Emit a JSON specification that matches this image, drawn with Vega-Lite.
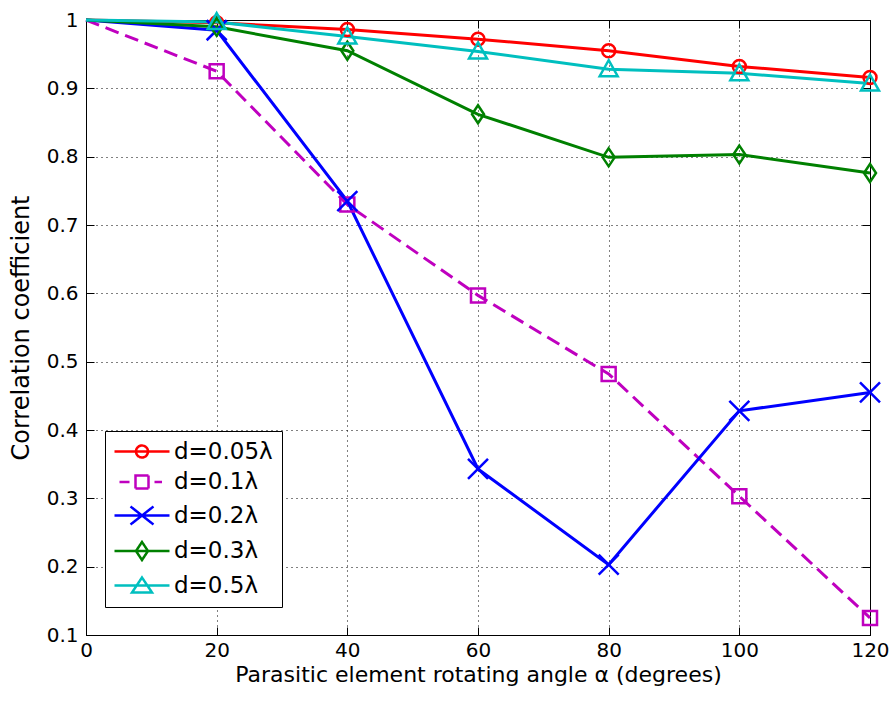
{
  "$schema": "https://vega.github.io/schema/vega-lite/v6.json",
  "width": 784,
  "height": 615,
  "autosize": {"type": "none"},
  "padding": {"left": 86, "top": 20, "right": 25, "bottom": 69},
  "background": "white",
  "data": {
    "values": [
      {"series": "d=0.05λ", "angle": 0, "value": 1.0},
      {"series": "d=0.05λ", "angle": 20, "value": 0.996},
      {"series": "d=0.05λ", "angle": 40, "value": 0.986},
      {"series": "d=0.05λ", "angle": 60, "value": 0.972},
      {"series": "d=0.05λ", "angle": 80, "value": 0.955},
      {"series": "d=0.05λ", "angle": 100, "value": 0.932},
      {"series": "d=0.05λ", "angle": 120, "value": 0.916},
      {"series": "d=0.1λ", "angle": 0, "value": 1.0},
      {"series": "d=0.1λ", "angle": 20, "value": 0.925},
      {"series": "d=0.1λ", "angle": 40, "value": 0.73},
      {"series": "d=0.1λ", "angle": 60, "value": 0.597},
      {"series": "d=0.1λ", "angle": 80, "value": 0.482},
      {"series": "d=0.1λ", "angle": 100, "value": 0.303},
      {"series": "d=0.1λ", "angle": 120, "value": 0.125},
      {"series": "d=0.2λ", "angle": 0, "value": 1.0},
      {"series": "d=0.2λ", "angle": 20, "value": 0.985},
      {"series": "d=0.2λ", "angle": 40, "value": 0.735},
      {"series": "d=0.2λ", "angle": 60, "value": 0.343},
      {"series": "d=0.2λ", "angle": 80, "value": 0.203},
      {"series": "d=0.2λ", "angle": 100, "value": 0.428},
      {"series": "d=0.2λ", "angle": 120, "value": 0.455},
      {"series": "d=0.3λ", "angle": 0, "value": 1.0},
      {"series": "d=0.3λ", "angle": 20, "value": 0.99},
      {"series": "d=0.3λ", "angle": 40, "value": 0.955},
      {"series": "d=0.3λ", "angle": 60, "value": 0.862},
      {"series": "d=0.3λ", "angle": 80, "value": 0.799},
      {"series": "d=0.3λ", "angle": 100, "value": 0.803},
      {"series": "d=0.3λ", "angle": 120, "value": 0.776},
      {"series": "d=0.5λ", "angle": 0, "value": 1.0},
      {"series": "d=0.5λ", "angle": 20, "value": 0.997},
      {"series": "d=0.5λ", "angle": 40, "value": 0.976},
      {"series": "d=0.5λ", "angle": 60, "value": 0.954},
      {"series": "d=0.5λ", "angle": 80, "value": 0.928},
      {"series": "d=0.5λ", "angle": 100, "value": 0.922},
      {"series": "d=0.5λ", "angle": 120, "value": 0.907}
    ]
  },
  "encoding": {
    "x": {"field": "angle", "type": "quantitative", "scale": {"domain": [0, 120], "nice": false}, "axis": null},
    "y": {"field": "value", "type": "quantitative", "scale": {"domain": [0.1, 1], "nice": false, "zero": false}, "axis": null},
    "color": {
      "field": "series", "type": "nominal",
      "scale": {
        "domain": ["d=0.05λ", "d=0.1λ", "d=0.2λ", "d=0.3λ", "d=0.5λ"],
        "range": ["#ff0000", "#bf00bf", "#0000ff", "#008000", "#00bfbf"]
      },
      "legend": null
    }
  },
  "layer": [
    {
      "transform": [{"filter": "datum.series == 'd=0.05λ'"}],
      "mark": {"type": "line", "strokeWidth": 3, "clip": false},
      "encoding": {
        "x": {
          "field": "angle", "type": "quantitative",
          "axis": {
            "title": "Parasitic element rotating angle α (degrees)",
            "values": [0, 20, 40, 60, 80, 100, 120],
            "grid": true, "tickSize": -8, "labelPadding": 13, "titlePadding": 4, "titleFontSize": 22
          }
        },
        "y": {
          "field": "value", "type": "quantitative",
          "axis": {
            "title": "Correlation coefficient",
            "values": [0.1, 0.2, 0.3, 0.4, 0.5, 0.6, 0.7, 0.8, 0.9, 1.0],
            "format": ".1~f",
            "grid": true, "tickSize": -8, "labelPadding": 16, "titlePadding": 13, "titleFontSize": 24
          }
        },
        "color": {
          "field": "series", "type": "nominal",
          "legend": {
            "orient": "none", "legendX": 19, "legendY": 411, "title": null,
            "strokeColor": "black", "fillColor": "white",
            "padding": 9, "rowPadding": 6.5,
            "symbolSize": 400, "symbolStrokeWidth": 2.5,
            "symbolOffset": 16.5, "labelOffset": 20.5,
            "labelFontSize": 23, "labelFont": "DejaVu Sans", "labelColor": "black",
            "symbolFillColor": "transparent",
            "encode": {
              "symbols": {
                "update": {
                  "shape": {"signal": "['M-2.75,0L2.75,0M-0.6,0A0.6,0.6,0,1,0,0.6,0A0.6,0.6,0,1,0,-0.6,0Z', 'M-2.25,0L-1.25,0M1.25,0L2.0,0M-0.65,-0.65L0.65,-0.65L0.65,0.65L-0.65,0.65Z', 'M-2.75,0L2.75,0M-1.15,-0.9L1.15,0.9M-1.15,0.9L1.15,-0.9', 'M-2.75,0L2.75,0M0,-0.9L0.6,0L0,0.9L-0.6,0Z', 'M-2.75,0L2.75,0M0,-0.8L1.0,0.7L-1.0,0.7Z'][datum.index]"},
                  "strokeDash": {"value": [1, 0]},
                  "fill": {"value": "transparent"}
                }
              }
            }
          }
        }
      }
    },
    {
      "transform": [{"filter": "datum.series == 'd=0.1λ'"}],
      "mark": {"type": "line", "strokeWidth": 3, "strokeDash": [14, 7], "clip": false}
    },
    {
      "transform": [{"filter": "datum.series != 'd=0.05λ' && datum.series != 'd=0.1λ'"}],
      "mark": {"type": "line", "strokeWidth": 3, "clip": false}
    },
    {
      "transform": [{"filter": "datum.series == 'd=0.05λ' && datum.angle > 0"}],
      "mark": {"type": "point", "filled": false, "strokeWidth": 2.5, "size": 400, "opacity": 1, "clip": false,
               "shape": "M-0.65,0A0.65,0.65,0,1,0,0.65,0A0.65,0.65,0,1,0,-0.65,0Z"}
    },
    {
      "transform": [{"filter": "datum.series == 'd=0.1λ' && datum.angle > 0"}],
      "mark": {"type": "point", "filled": false, "strokeWidth": 2.5, "size": 400, "opacity": 1, "clip": false,
               "shape": "M-0.7,-0.7L0.7,-0.7L0.7,0.7L-0.7,0.7Z"}
    },
    {
      "transform": [{"filter": "datum.series == 'd=0.2λ' && datum.angle > 0"}],
      "mark": {"type": "point", "filled": false, "strokeWidth": 2.5, "size": 400, "opacity": 1, "clip": false,
               "shape": "M-1,-1L1,1M-1,1L1,-1"}
    },
    {
      "transform": [{"filter": "datum.series == 'd=0.3λ' && datum.angle > 0"}],
      "mark": {"type": "point", "filled": false, "strokeWidth": 2.5, "size": 400, "opacity": 1, "clip": false,
               "shape": "M0,-0.9L0.6,0L0,0.9L-0.6,0Z"}
    },
    {
      "transform": [{"filter": "datum.series == 'd=0.5λ' && datum.angle > 0"}],
      "mark": {"type": "point", "filled": false, "strokeWidth": 2.5, "size": 400, "opacity": 1, "clip": false,
               "shape": "M0,-0.9L0.9,0.7L-0.9,0.7Z"}
    },
    {
      "mark": {"type": "point", "opacity": 0},
      "encoding": {
        "x": {
          "field": "angle", "type": "quantitative",
          "axis": {"orient": "top", "labels": false, "grid": false, "domain": false, "ticks": true, "tickSize": -8, "title": null, "values": [0, 20, 40, 60, 80, 100, 120]}
        },
        "y": {
          "field": "value", "type": "quantitative",
          "axis": {"orient": "right", "labels": false, "grid": false, "domain": false, "ticks": true, "tickSize": -8, "title": null, "values": [0.1, 0.2, 0.3, 0.4, 0.5, 0.6, 0.7, 0.8, 0.9, 1.0]}
        },
        "color": {"value": "black"}
      }
    }
  ],
  "resolve": {"axis": {"x": "independent", "y": "independent"}},
  "config": {
    "view": {"stroke": "black", "strokeWidth": 1},
    "font": "DejaVu Sans",
    "axis": {
      "labelFont": "DejaVu Sans", "titleFont": "DejaVu Sans",
      "labelColor": "black", "titleColor": "black",
      "labelFontSize": 20, "titleFontSize": 21, "titleFontWeight": "normal",
      "domainColor": "black", "domainWidth": 1,
      "tickColor": "black", "tickWidth": 1,
      "gridColor": "black", "gridDash": [1, 4], "gridOpacity": 1, "gridWidth": 1,
      "labelFlush": false, "labelOverlap": false
    }
  }
}
